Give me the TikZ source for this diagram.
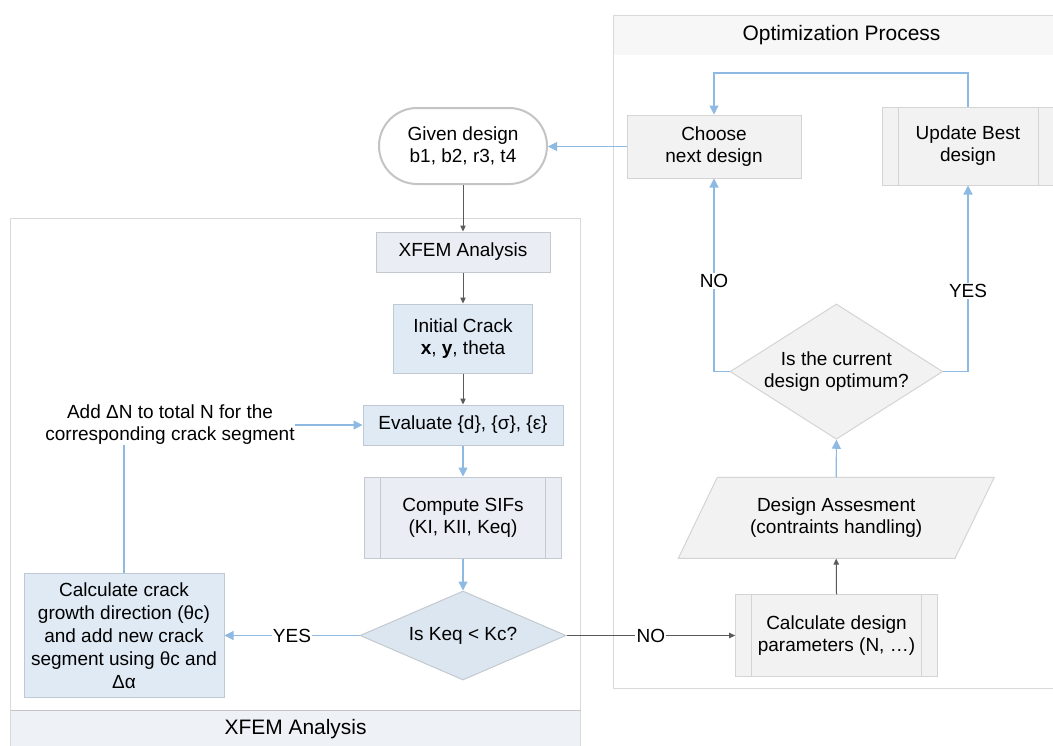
\documentclass[tikz,border=0pt]{standalone}
\usepackage{fontspec}
\setmainfont{Liberation Sans}
\usetikzlibrary{arrows.meta,shapes.geometric,calc}
\definecolor{bl}{HTML}{8DB9E2}
\definecolor{dg}{HTML}{5A5A5A}
\definecolor{panelc}{HTML}{D9D9D9}
\definecolor{hdrc}{HTML}{F7F7F7}
\definecolor{footc}{HTML}{EEF1F6}
\definecolor{optfill}{HTML}{F2F2F2}
\definecolor{optdraw}{HTML}{D4D4D4}
\definecolor{gbfill}{HTML}{EAEEF4}
\definecolor{gbdraw}{HTML}{C4C9CF}
\definecolor{bfill}{HTML}{DFEAF5}
\definecolor{bdraw}{HTML}{BFC9D3}
\definecolor{kfill}{HTML}{DCE6F0}
\definecolor{termc}{HTML}{C4C4C4}
\begin{document}
\begin{tikzpicture}[x=0.75pt,y=-0.75pt,
  every node/.style={font=\fontsize{14.25}{16.5}\selectfont, text=black, align=center},
  optbox/.style={draw=optdraw, fill=optfill, line width=0.75pt, inner sep=2pt},
  gbbox/.style={draw=gbdraw, fill=gbfill, line width=0.75pt, inner sep=2pt},
  bbox/.style={draw=bdraw, fill=bfill, line width=0.75pt, inner sep=2pt},
  predef/.style={path picture={
      \draw[#1, line width=0.75pt] ([xshift=12pt]path picture bounding box.north west) -- ([xshift=12pt]path picture bounding box.south west);
      \draw[#1, line width=0.75pt] ([xshift=-12pt]path picture bounding box.north east) -- ([xshift=-12pt]path picture bounding box.south east);}},
  term/.style={draw=termc, fill=white, line width=1.5pt, rounded corners=28.5pt,
      minimum width=168*0.75pt, minimum height=76*0.75pt, inner sep=2pt},
  keqd/.style={diamond, draw=gbdraw, fill=kfill, line width=0.75pt, inner sep=0pt,
      shape aspect=2.31, minimum width=206*0.75pt, minimum height=89*0.75pt},
  optd/.style={diamond, draw=optdraw, fill=optfill, line width=0.75pt, inner sep=0pt,
      shape aspect=1.57, minimum width=212.7*0.75pt, minimum height=135.3*0.75pt},
  plain/.style={inner sep=0pt},
  lbl/.style={fill=white, inner sep=1pt},
  title/.style={font=\fontsize{15.7}{18}\selectfont},
  barrow/.style={draw=bl, line width=0.85pt, -{Triangle[length=6.75pt,width=6.75pt]}},
  bline/.style={draw=bl, line width=0.85pt},
  garrow/.style={draw=dg, line width=0.75pt, -{Triangle[length=4.5pt,width=4pt]}}
]
\useasboundingbox (0,0) rectangle (1053,746);

% Optimization panel
\fill[white] (613,15) rectangle (1075,688);
\fill[hdrc] (613,15) rectangle (1075,55);
\draw[panelc, line width=0.75pt] (613,15) rectangle (1075,688);
\node[title] (opttitle) at (841.5,35) {Optimization Process};

% XFEM panel
\fill[footc] (10.7,710.7) rectangle (580.5,760);
\draw[panelc, line width=0.75pt] (10.7,218) rectangle (580.5,760);
\draw[termc, line width=0.75pt] (10.7,710.7) -- (580.5,710.7);
\node[title] (xfemtitle) at (295.6,729) {XFEM Analysis};

% Optimization nodes
\node[optbox, minimum width=174*0.75pt, minimum height=63*0.75pt] (choose) at (714,146.5) {Choose\\next design};
\node[optbox, predef=optdraw, minimum width=172*0.75pt, minimum height=78*0.75pt] (update) at (968,146) {Update Best\\design};
\node[optd] (optd) at (836.4,371.6) {Is the current\\design optimum?};
\draw[draw=optdraw, fill=optfill, line width=0.75pt] (717.3,477.3) -- (994.3,477.3) -- (955,558.3) -- (678.3,558.3) -- cycle;
\node[plain, minimum width=238*0.75pt, minimum height=81*0.75pt] (asses) at (836.2,517.8) {Design Assesment\\(contraints handling)};
\node[optbox, predef=optdraw, minimum width=201.6*0.75pt, minimum height=81.3*0.75pt] (cdp) at (836.5,635.5) {Calculate design\\parameters (N, …)};

% Given design
\node[term] (given) at (463,146) {Given design\\b1, b2, r3, t4};

% XFEM nodes
\node[gbbox, minimum width=174*0.75pt, minimum height=40*0.75pt] (xfem) at (463,252) {XFEM Analysis};
\node[bbox, minimum width=139*0.75pt, minimum height=69*0.75pt] (init) at (463,338.5) {Initial Crack\\\textbf{x}, \textbf{y}, theta};
\node[bbox, minimum width=200*0.75pt, minimum height=40*0.75pt] (eval) at (463,425) {Evaluate \{d\}, \{σ\}, \{ε\}};
\node[gbbox, predef=gbdraw, minimum width=197*0.75pt, minimum height=81*0.75pt] (sif) at (463,517.5) {Compute SIFs\\(KI, KII, Keq)};
\node[keqd] (keq) at (463,635.5) {Is Keq < Kc?};
\node[bbox, minimum width=200*0.75pt, minimum height=124*0.75pt, font=\fontsize{14.25}{17.2}\selectfont] (calc) at (124,635.5) {Calculate crack\\growth direction (θc)\\and add new crack\\segment using θc and\\Δα};
\node[plain] (addn) at (170,425) {Add ΔN to total N for the\\corresponding crack segment};

% Connectors
\coordinate (lp) at (714,73);
\draw[barrow] (update.north) |- (lp) -- (choose.north);
\draw[barrow] (choose.west) -- (choose.west -| given.east);
\draw[garrow] (given.south) -- (xfem.north);
\draw[garrow] (xfem.south) -- (init.north);
\draw[garrow] (init.south) -- (eval.north);
\draw[barrow] (eval.south) -- (sif.north);
\draw[barrow] (sif.south) -- (keq.north);
\draw[barrow] (keq.west) -- node[lbl]{YES} (calc.east);
\draw[bline] (calc.north) -- (calc.north |- addn.south);
\draw[barrow] (addn.east) -- (eval.west);
\draw[garrow] (keq.east) -- node[lbl]{NO} (cdp.west);
\draw[garrow] (cdp.north) -- (asses.south);
\draw[barrow] (asses.north) -- (optd.south);
\draw[barrow] (optd.west) -| node[lbl, pos=0.735]{NO} (choose.south);
\draw[barrow] (optd.east) -| node[lbl, pos=0.717]{YES} (update.south);
\end{tikzpicture}
\end{document}
